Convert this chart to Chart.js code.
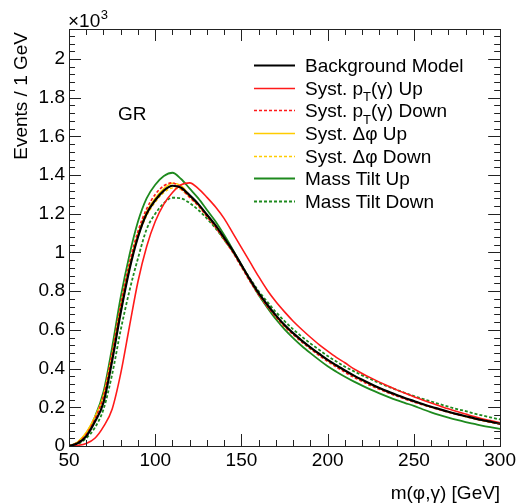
<!DOCTYPE html>
<html>
<head>
<meta charset="utf-8">
<script src="https://cdn.jsdelivr.net/npm/chart.js@4.4.1/dist/chart.umd.min.js"></script>
<style>
  html, body { margin: 0; padding: 0; background: #ffffff; }
  #wrap { width: 519px; height: 503px; }
</style>
</head>
<body>
<div id="wrap"><canvas id="c" width="519" height="503"></canvas></div>
<script>
// m(phi, gamma) bin centres in GeV
const massGeV = [50,55,60,65,70,75,80,85,90,95,100,105,110,115,120,125,130,135,140,145,150,
  155,160,165,170,175,180,185,190,195,200,205,210,215,220,225,230,235,240,245,250,
  255,260,265,270,275,280,285,290,295,300];

// Events / 1 GeV, in units of 10^3
const backgroundModel = [0.0,0.014,0.05,0.125,0.225,0.44,0.69,0.91,1.08,1.2,1.27,1.32,1.345,1.335,1.295,1.25,1.195,1.14,1.075,1.01,0.935,
  0.86,0.79,0.73,0.675,0.625,0.583,0.545,0.51,0.477,0.445,0.417,0.39,0.365,0.342,0.32,0.3,0.281,0.264,0.247,0.232,
  0.217,0.203,0.19,0.177,0.165,0.154,0.143,0.133,0.124,0.115];

const systPtUp = [0.0,0.003,0.013,0.04,0.1,0.19,0.375,0.615,0.85,1.03,1.16,1.25,1.31,1.35,1.36,1.33,1.285,1.235,1.175,1.1,1.025,
  0.95,0.875,0.805,0.745,0.693,0.645,0.602,0.562,0.524,0.49,0.458,0.43,0.4,0.375,0.352,0.33,0.31,0.29,0.272,0.255,
  0.238,0.222,0.207,0.192,0.178,0.165,0.152,0.14,0.13,0.12];

const systPtDown = [0.0,0.018,0.06,0.14,0.26,0.48,0.73,0.945,1.11,1.225,1.3,1.345,1.36,1.33,1.285,1.24,1.185,1.13,1.065,1.0,0.925,
  0.85,0.78,0.72,0.666,0.617,0.575,0.537,0.502,0.468,0.437,0.408,0.381,0.356,0.334,0.312,0.293,0.275,0.258,0.242,0.227,
  0.213,0.2,0.187,0.175,0.163,0.152,0.142,0.132,0.123,0.114];

const systDphiUp = [0.0,0.02,0.07,0.15,0.26,0.47,0.72,0.93,1.095,1.21,1.28,1.33,1.358,1.345,1.293,1.245,1.19,1.135,1.07,1.005,0.93,
  0.855,0.786,0.726,0.671,0.621,0.58,0.542,0.507,0.474,0.442,0.414,0.388,0.363,0.34,0.318,0.298,0.279,0.262,0.246,0.231,
  0.216,0.202,0.189,0.176,0.164,0.153,0.142,0.132,0.123,0.114];

const systDphiDown = [0.0,0.02,0.068,0.148,0.255,0.46,0.705,0.915,1.08,1.19,1.26,1.31,1.333,1.325,1.285,1.243,1.192,1.138,1.074,1.009,0.934,
  0.859,0.789,0.729,0.674,0.624,0.582,0.544,0.509,0.476,0.444,0.416,0.389,0.364,0.341,0.319,0.299,0.28,0.263,0.246,0.231,
  0.216,0.202,0.189,0.176,0.164,0.153,0.142,0.132,0.123,0.114];

const massTiltUp = [0.0,0.018,0.065,0.15,0.28,0.51,0.77,0.985,1.16,1.28,1.35,1.395,1.412,1.38,1.33,1.28,1.22,1.16,1.09,1.015,0.935,
  0.855,0.78,0.715,0.655,0.603,0.558,0.517,0.48,0.445,0.412,0.384,0.358,0.334,0.312,0.291,0.272,0.254,0.237,0.222,0.207,
  0.19,0.174,0.16,0.147,0.135,0.124,0.114,0.104,0.096,0.088];

const massTiltDown = [0.0,0.01,0.04,0.095,0.19,0.37,0.6,0.8,0.97,1.12,1.2,1.255,1.283,1.28,1.255,1.22,1.175,1.125,1.065,1.005,0.935,
  0.865,0.8,0.745,0.692,0.645,0.603,0.565,0.53,0.497,0.465,0.437,0.41,0.387,0.365,0.345,0.325,0.307,0.29,0.274,0.258,
  0.244,0.23,0.216,0.203,0.191,0.18,0.168,0.157,0.147,0.137];

const seriesLabels = ['Background Model', 'Syst. p_{T}(\u03b3) Up', 'Syst. p_{T}(\u03b3) Down',
  'Syst. \u0394\u03c6 Up', 'Syst. \u0394\u03c6 Down', 'Mass Tilt Up', 'Mass Tilt Down'];
const seriesValues = [backgroundModel, systPtUp, systPtDown, systDphiUp, systDphiDown, massTiltUp, massTiltDown];

const xTickLabels = [50, 100, 150, 200, 250, 300];
const yTickLabels = [0, 0.2, 0.4, 0.6, 0.8, 1, 1.2, 1.4, 1.6, 1.8, 2];

// line styles for each series
const styles = [
  { color: '#000000', width: 2.2, dash: [] },
  { color: '#ff1a1a', width: 1.6, dash: [] },
  { color: '#ff1a1a', width: 1.6, dash: [3, 2] },
  { color: '#ffcc00', width: 1.6, dash: [] },
  { color: '#ffcc00', width: 1.6, dash: [3, 2] },
  { color: '#1e8a1e', width: 1.8, dash: [] },
  { color: '#1e8a1e', width: 1.8, dash: [3, 2] }
];

const FONT = '"Liberation Sans", Arial, Helvetica, sans-serif';
const Y_MAX = 2.155;

const datasets = seriesValues.map((vals, i) => ({
  label: seriesLabels[i],
  data: massGeV.map((m, k) => ({ x: m, y: vals[k] })),
  borderColor: styles[i].color,
  borderWidth: styles[i].width,
  borderDash: styles[i].dash,
  pointRadius: 0,
  fill: false,
  cubicInterpolationMode: 'monotone'
}));

// draws text with _{...} subscripts
function drawRich(ctx, text, x, y, size) {
  const parts = text.split(/(_\{[^}]*\})/);
  let cx = x;
  for (const p of parts) {
    if (!p) continue;
    if (p.startsWith('_{')) {
      const s = p.slice(2, -1);
      ctx.font = Math.round(size * 0.68) + 'px ' + FONT;
      ctx.fillText(s, cx, y + size * 0.33);
      cx += ctx.measureText(s).width;
    } else {
      ctx.font = size + 'px ' + FONT;
      ctx.fillText(p, cx, y);
      cx += ctx.measureText(p).width;
    }
  }
}

const framePlugin = {
  id: 'frame',
  afterDraw(chart) {
    const { ctx, chartArea: a, scales: { x, y } } = chart;
    ctx.save();
    ctx.strokeStyle = '#222222';
    ctx.lineWidth = 1;
    ctx.setLineDash([]);
    ctx.strokeRect(Math.round(a.left) + 0.5, Math.round(a.top) + 0.5,
      Math.round(a.right - a.left), Math.round(a.bottom - a.top));

    // inward tick marks on all four sides
    ctx.beginPath();
    for (let v = 50; v <= 300 + 1e-9; v += 10) {
      const px = Math.round(x.getPixelForValue(v)) + 0.5;
      const len = (v % 50 === 0) ? 12 : 6;
      ctx.moveTo(px, a.bottom); ctx.lineTo(px, a.bottom - len);
      ctx.moveTo(px, a.top); ctx.lineTo(px, a.top + len);
    }
    for (let k = 0; k * 0.04 <= Y_MAX + 1e-9; k++) {
      const v = k * 0.04;
      const py = Math.round(y.getPixelForValue(v)) + 0.5;
      const len = (k % 5 === 0) ? 12 : 6;
      ctx.moveTo(a.left, py); ctx.lineTo(a.left + len, py);
      ctx.moveTo(a.right, py); ctx.lineTo(a.right - len, py);
    }
    ctx.stroke();

    ctx.fillStyle = '#000000';
    ctx.textBaseline = 'alphabetic';
    // axis titles
    ctx.font = '19px ' + FONT;
    ctx.textAlign = 'right';
    ctx.fillText('m(\u03c6,\u03b3) [GeV]', a.right, 499);
    ctx.save();
    ctx.translate(27, 32);
    ctx.rotate(-Math.PI / 2);
    ctx.textAlign = 'right';
    ctx.fillText('Events / 1 GeV', 0, 0);
    ctx.restore();

    // exponent
    ctx.textAlign = 'left';
    ctx.font = '19px ' + FONT;
    ctx.fillText('\u00d710', 68, 27);
    const w = ctx.measureText('\u00d710').width;
    ctx.font = '13px ' + FONT;
    ctx.fillText('3', 68 + w + 0.5, 19);

    // label
    ctx.font = '19px ' + FONT;
    ctx.fillText('GR', 118, 120);

    // legend
    chart.data.datasets.forEach((ds, i) => {
      const cy = 65 + i * 22.65;
      ctx.beginPath();
      ctx.strokeStyle = ds.borderColor;
      ctx.lineWidth = Math.min(ds.borderWidth, 2);
      ctx.setLineDash(ds.borderDash || []);
      ctx.moveTo(254, Math.round(cy) + 0.5);
      ctx.lineTo(295, Math.round(cy) + 0.5);
      ctx.stroke();
      ctx.setLineDash([]);
      ctx.fillStyle = '#000000';
      ctx.textAlign = 'left';
      drawRich(ctx, ds.label, 305, cy + 7, 19);
    });
    ctx.restore();
  }
};

new Chart(document.getElementById('c').getContext('2d'), {
  type: 'line',
  data: { datasets },
  plugins: [framePlugin],
  options: {
    responsive: false,
    animation: false,
    devicePixelRatio: 1,
    layout: { padding: { left: 0, right: 17, top: 29, bottom: 0 } },
    plugins: { legend: { display: false }, tooltip: { enabled: false } },
    scales: {
      x: {
        type: 'linear', min: 50, max: 300,
        afterFit(s) { s.height = 57; },
        afterBuildTicks(s) { s.ticks = xTickLabels.map(v => ({ value: v })); },
        grid: { display: false, drawTicks: false },
        border: { display: false },
        ticks: { color: '#000', font: { family: FONT, size: 19 }, padding: 3, maxRotation: 0, autoSkip: false }
      },
      y: {
        type: 'linear', min: 0, max: Y_MAX,
        afterFit(s) { s.width = 69; },
        afterBuildTicks(s) { s.ticks = yTickLabels.map(v => ({ value: v })); },
        grid: { display: false, drawTicks: false },
        border: { display: false },
        ticks: {
          color: '#000', font: { family: FONT, size: 19 }, padding: 4, autoSkip: false,
          callback: v => String(Math.round(v * 10) / 10)
        }
      }
    }
  }
});
</script>
</body>
</html>
